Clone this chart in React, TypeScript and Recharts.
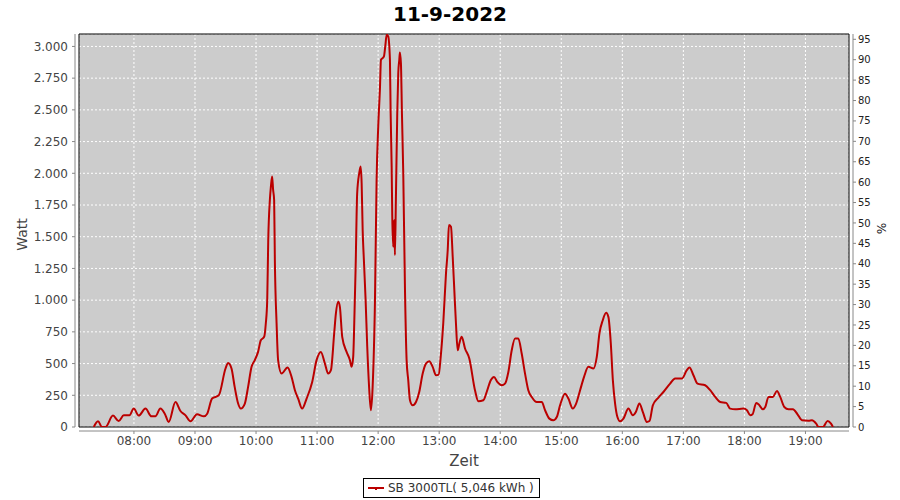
import React from 'react';
import { LineChart, Line, XAxis, YAxis, CartesianGrid, ReferenceArea, Legend } from 'recharts';

const TITLE = '11-9-2022';
const SERIES_NAME = 'SB 3000TL( 5,046 kWh )';
const RED = '#bb0000';
const FONT = '"DejaVu Sans", Verdana, sans-serif';

// time of each reading, minutes since midnight
const minutes = [
  440.5, 444.7, 448.6, 452, 459.4, 465, 470, 475.6, 479.8, 484.7,
  491.3, 497.2, 501.1, 506, 510.3, 514.2, 520.8, 525.7, 530.7, 535.6,
  542, 548.7, 552, 556.8, 563.4, 570, 572.6, 575.9, 579, 582.4,
  585, 589, 592.2, 595.6, 598.8, 602, 604.7, 608, 609.6, 611,
  612, 613.6, 614.6, 615.8, 616.8, 617.8, 618.5, 620.2, 621.7, 625.1,
  631, 634.9, 638.2, 641.4, 645.3, 649.7, 655.2, 659.5, 663.7, 667.7,
  670.9, 673.6, 676.8, 678.5, 680.8, 682.4, 684.7, 689, 692.3, 693.9,
  695.5, 696.2, 697.9, 699.4, 701.4, 702.8, 703.8, 704.8, 706, 707.7,
  709.3, 711.2, 712.9, 714.6, 716.9, 718.5, 720.1, 721.8, 722.8, 724.4,
  725.7, 727, 728.4, 729.9, 731.6, 732.3, 733.3, 733.9, 734.8, 735.8,
  736.5, 737.5, 738.8, 739.8, 740.8, 741.4, 742.4, 743.4, 744.7, 746.4,
  748, 749.6, 751.3, 753.9, 757.2, 760.4, 763.8, 767, 770.3, 773.6,
  776.9, 779.5, 781.5, 784, 786.7, 788.4, 789.6, 791.6, 793.3, 795.2,
  796.5, 798.2, 799.8, 802.1, 805.4, 809.6, 815.2, 818.5, 823.4, 826.7,
  830.7, 833.9, 837.1, 841.5, 844.7, 848, 851.3, 854.6, 857.8, 861.1,
  864.4, 867.6, 871, 875.9, 880.8, 884.1, 888.3, 892.2, 895.6, 898.8,
  903.7, 907, 911.3, 914.6, 918.5, 922.4, 926.6, 931.6, 934.9, 937.5,
  940.8, 944.1, 946.3, 948.7, 950.7, 952.9, 955.2, 957.8, 961.1, 966,
  970.3, 973.3, 976.8, 980.2, 984.1, 986.7, 990, 995.5, 1000.4, 1007,
  1011.9, 1018.5, 1023.4, 1026, 1029.9, 1033.9, 1041.4, 1046.4, 1051.3, 1056.2,
  1062.1, 1066, 1071, 1079.1, 1082.5, 1085.7, 1088, 1091.6, 1093.9, 1098.2,
  1100.5, 1103.7, 1108, 1112, 1115.2, 1119.2, 1123.4, 1127.7, 1132.2, 1136.6,
  1143, 1146.4, 1150.6, 1152.9, 1157.2, 1161.7, 1165.1, 1167,
];

const watts = [
  0, 45, 0, 0, 90, 47, 92, 92, 145, 90,
  145, 84, 84, 145, 105, 40, 197, 126, 92, 45,
  100, 84, 105, 224, 250, 461, 505, 461, 316, 185,
  145, 185, 316, 474, 527, 592, 684, 711, 816, 1000,
  1474, 1790, 1895, 1974, 1869, 1790, 1316, 816, 527, 421,
  469, 395, 290, 224, 145, 224, 355, 527, 592, 500,
  421, 448, 737, 895, 987, 947, 711, 592, 527, 474,
  553, 711, 1263, 1842, 2000, 2053, 1922, 1553, 1316, 1000,
  632, 303, 132, 316, 1000, 1948, 2368, 2671, 2895, 2908,
  2921, 3000, 3092, 3079, 2895, 2474, 2053, 1658, 1421, 1632,
  1355, 1816, 2474, 2790, 2895, 2953, 2869, 2474, 2000, 1079,
  527, 369, 211, 171, 197, 276, 421, 500, 519, 474,
  408, 413, 553, 816, 1211, 1395, 1592, 1579, 1342, 1026,
  816, 605, 658, 711, 619, 540, 290, 203, 211, 276,
  369, 395, 355, 329, 342, 434, 605, 698, 698, 579,
  421, 290, 237, 197, 197, 132, 66, 53, 79, 171,
  263, 224, 145, 185, 290, 395, 474, 461, 553, 737,
  842, 900, 868, 658, 369, 185, 79, 45, 66, 145,
  92, 118, 185, 118, 40, 47, 171, 232, 276, 342,
  382, 382, 448, 469, 408, 342, 329, 290, 237, 197,
  190, 145, 140, 145, 132, 92, 100, 190, 179, 140,
  158, 237, 237, 284, 237, 158, 140, 140, 100, 53,
  50, 53, 26, 0, 0, 47, 26, 0,
];

const timeTicks = [480, 540, 600, 660, 720, 780, 840, 900, 960, 1020, 1080, 1140];
const wattTicks = [0, 250, 500, 750, 1000, 1250, 1500, 1750, 2000, 2250, 2500, 2750, 3000];
const percentTicks = [0, 5, 10, 15, 20, 25, 30, 35, 40, 45, 50, 55, 60, 65, 70, 75, 80, 85, 90, 95];

const X_DOMAIN = [426, 1182.8];
const WATT_MAX = 3098;
const PERCENT_MAX = 96.3;

const data = minutes.map((t, i) => ({ t, w: watts[i] }));

const hhmm = (m: number) =>
  `${String(Math.floor(m / 60)).padStart(2, '0')}:${String(Math.round(m % 60)).padStart(2, '0')}`;
const dotted = (v: number) =>
  v >= 1000 ? `${Math.floor(v / 1000)}.${String(v % 1000).padStart(3, '0')}` : String(v);

const axisGray = '#888888';

function LegendBox({ payload }: any) {
  const item = payload && payload[0];
  return (
    <div
      style={{
        display: 'inline-flex',
        alignItems: 'center',
        border: '1px solid #000',
        padding: '2px 5px 2px 4px',
        background: '#fff',
        fontSize: 12,
        color: '#333',
        fontFamily: FONT,
        whiteSpace: 'nowrap',
      }}
    >
      <svg width={16} height={8} style={{ marginRight: 4 }}>
        <line x1={0} y1={4} x2={16} y2={4} stroke={RED} strokeWidth={2} />
        <rect x={7} y={4} width={2} height={2} fill={RED} />
      </svg>
      <span>{item ? item.value : SERIES_NAME}</span>
    </div>
  );
}

export default function App() {
  return (
    <div style={{ position: 'absolute', left: 0, top: 0, width: 900, height: 500, background: '#fff' }}>
      <div
        style={{
          position: 'absolute',
          top: 2,
          left: 0,
          width: 900,
          textAlign: 'center',
          fontFamily: FONT,
          fontWeight: 'bold',
          fontSize: 20,
          color: '#000',
        }}
      >
        {TITLE}
      </div>
      <LineChart
        width={900}
        height={500}
        data={data}
        margin={{ top: 34, right: 0, bottom: 0, left: 0 }}
        style={{ fontFamily: FONT }}
      >
        <CartesianGrid
          yAxisId="w"
          stroke="#ffffff"
          strokeDasharray="2 2"
          fill="#cccccc"
          fillOpacity={1}
        />
        <XAxis
          dataKey="t"
          type="number"
          domain={X_DOMAIN}
          allowDataOverflow
          ticks={timeTicks}
          interval={0}
          tickFormatter={hhmm}
          height={73}
          tickSize={3}
          tickMargin={6}
          tick={{ fontSize: 12, fill: '#444' }}
          axisLine={{ stroke: axisGray, transform: 'translate(0,4)' }}
          tickLine={{ stroke: axisGray, transform: 'translate(0,4)' }}
          label={(props: any) => {
            const vb = props.viewBox;
            return (
              <text x={vb.x + vb.width / 2} y={466} textAnchor="middle" fontSize={15} fill="#444">
                Zeit
              </text>
            );
          }}
        />
        <YAxis
          yAxisId="w"
          orientation="left"
          type="number"
          domain={[0, WATT_MAX]}
          allowDataOverflow
          ticks={wattTicks}
          interval={0}
          tickFormatter={dotted}
          width={79}
          tickSize={3}
          tickMargin={8}
          tick={{ fontSize: 12, fill: '#444' }}
          axisLine={{ stroke: axisGray, transform: 'translate(-4,0)' }}
          tickLine={{ stroke: axisGray, transform: 'translate(-4,0)' }}
          label={(props: any) => {
            const vb = props.viewBox;
            const cy = vb.y + vb.height / 2 + 4;
            return (
              <text x={27} y={cy} textAnchor="middle" fontSize={14} fill="#444" transform={`rotate(-90, 27, ${cy})`}>
                Watt
              </text>
            );
          }}
        />
        <YAxis
          yAxisId="p"
          orientation="right"
          type="number"
          domain={[0, PERCENT_MAX]}
          allowDataOverflow
          ticks={percentTicks}
          interval={0}
          width={51}
          tickSize={3}
          tickMargin={6}
          tick={{ fontSize: 10, fill: '#222' }}
          axisLine={{ stroke: axisGray, transform: 'translate(4,0)' }}
          tickLine={{ stroke: axisGray, transform: 'translate(4,0)' }}
          label={(props: any) => {
            const vb = props.viewBox;
            const cy = vb.y + vb.height / 2 - 2;
            const x = vb.x + 28;
            return (
              <text x={x} y={cy} textAnchor="middle" fontSize={12} fill="#222" transform={`rotate(90, ${x}, ${cy})`}>
                %
              </text>
            );
          }}
        />
        <Line
          yAxisId="w"
          type="monotone"
          dataKey="w"
          name={SERIES_NAME}
          stroke={RED}
          strokeWidth={2}
          dot={false}
          activeDot={false}
          isAnimationActive={false}
        />
        <ReferenceArea
          yAxisId="w"
          x1={X_DOMAIN[0]}
          x2={X_DOMAIN[1]}
          y1={0}
          y2={WATT_MAX}
          fill="none"
          stroke="#000"
          strokeWidth={1}
          ifOverflow="visible"
        />
        <Legend
          verticalAlign="middle"
          layout="horizontal"
          content={LegendBox}
          wrapperStyle={{ top: 477, left: 363, width: 'auto', height: 'auto' }}
        />
      </LineChart>
    </div>
  );
}
